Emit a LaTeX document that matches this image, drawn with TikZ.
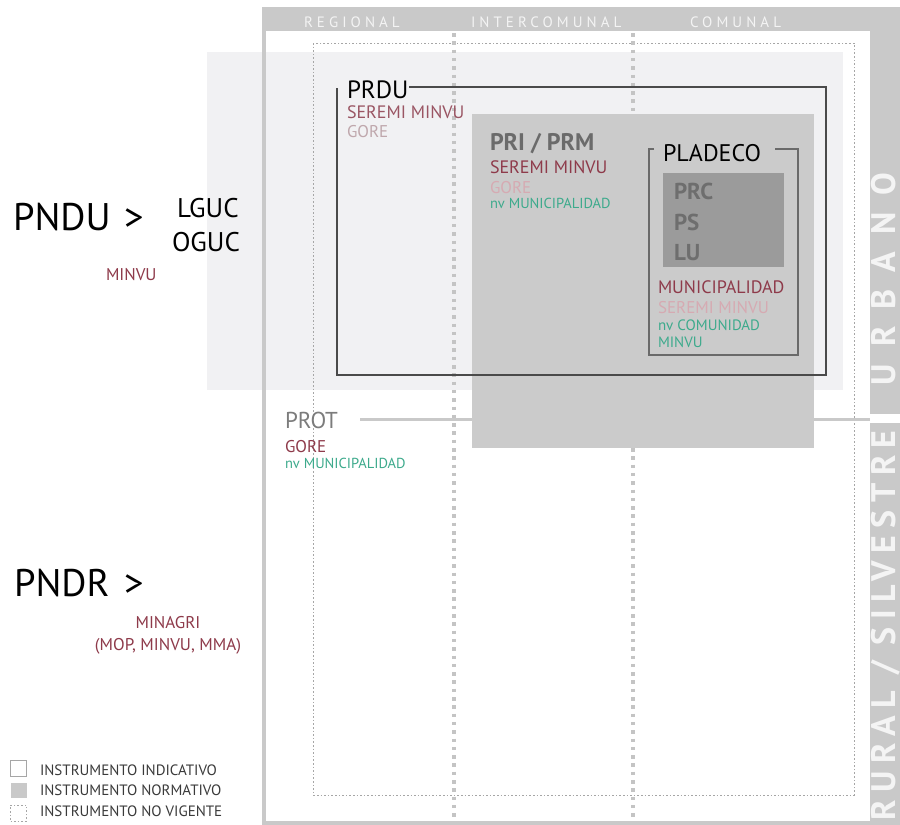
\documentclass[tikz,border=0pt]{standalone}
\usepackage{fontspec}
\setmainfont{PT Sans}
\newfontfamily\headfont[LetterSpace=27]{PT Sans}
\newfontfamily\bandfontA[LetterSpace=50]{PT Sans}
\newfontfamily\bandfontB[LetterSpace=22]{PT Sans}
\definecolor{framegray}{HTML}{C9C9C9}
\definecolor{lightzone}{HTML}{F1F1F3}
\definecolor{normgray}{HTML}{CBCBCB}
\definecolor{darkbox}{HTML}{9B9B9B}
\definecolor{darkred}{HTML}{8E3A4A}
\definecolor{midred}{HTML}{9A5563}
\definecolor{pinkgray}{HTML}{BFA7AC}
\definecolor{pinklight}{HTML}{D6AAB2}
\definecolor{tealc}{HTML}{3DAA8C}
\definecolor{dotgray}{HTML}{C4C4C4}
\definecolor{fingray}{HTML}{A6A6A6}
\definecolor{headtext}{HTML}{F4F4F4}
\definecolor{protgray}{HTML}{7C7C7C}
\definecolor{pritext}{HTML}{6B6B6B}
\definecolor{prctext}{HTML}{6E6E6E}
\definecolor{legtext}{HTML}{3A3A3A}
\definecolor{boxline}{HTML}{4A4A4A}
\definecolor{pladline}{HTML}{6A6A6A}
\newcommand{\fsz}[1]{\fontsize{#1}{#1}\selectfont}
\begin{document}
\begin{tikzpicture}[x=1pt,y=-1pt,
  txt/.style={anchor=base west, inner sep=0pt, outer sep=0pt},
  coldot/.style={dotgray, line width=3.5pt, dash pattern=on 3.5pt off 4.8pt},
  finedot/.style={fingray, line width=1pt, dash pattern=on 1.6pt off 2pt},
  boxstroke/.style={boxline, line width=1.1pt},
  pladstroke/.style={pladline, line width=1.6pt},
  protline/.style={framegray, line width=3pt}
]
\useasboundingbox (0,0) rectangle (900,825);
\fill[white] (0,0) rectangle (900,825);
% light zone (PRDU area)
\fill[lightzone] (207,52) rectangle (843,390);
% frame
\fill[framegray] (262,7) rectangle (900,31);
\fill[framegray] (870,7) rectangle (900,414);
\fill[framegray] (870,423) rectangle (900,825);
\fill[framegray] (262,7) rectangle (266,825);
\fill[framegray] (262,821) rectangle (900,825);
% non-current instrument (dotted)
\draw[finedot] (313,43) rectangle (854,795);
% column separators
\draw[coldot] (454,33) -- (454,821);
\draw[coldot] (633,33) -- (633,821);
% PROT connector
\coordinate (protstart) at (360,419);
\coordinate (protend) at (870,419);
\draw[protline] (protstart) -- (protend);
% PRI / PRM normative box
\fill[normgray] (472,114) rectangle (814,448);
% PRDU outline
\draw[boxstroke] (409,87) -- (826,87) -- (826,375) -- (337,375) -- (337,88);
% PLADECO outline
\draw[pladstroke] (654,149) -- (649,149) -- (649,355) -- (798,355) -- (798,149) -- (775,149);
\fill[darkbox] (663,173) rectangle (784,267);

% headers
\node[txt, text=headtext] (hreg) at (304,27) {\headfont\fsz{15}REGIONAL};
\node[txt, text=headtext] (hint) at (471,27) {\headfont\fsz{15}INTERCOMUNAL};
\node[txt, text=headtext] (hcom) at (690,27) {\headfont\fsz{15}COMUNAL};
% band labels
\node[txt, rotate=90, text=headtext] (urb) at (895,385) {\bandfontA\bfseries\fsz{34}URBANO};
\node[txt, rotate=90, text=headtext] (rur) at (895,820) {\bandfontB\bfseries\fsz{34}RURAL / SILVESTRE};

% PNDU block
\node[txt] (pndu) at (13,230) {\fsz{38.5}PNDU};
\node[txt] (gt1) at (124,230) {\fsz{38.5}>};
\node[txt] (lguc) at (177,217) {\fsz{27}LGUC};
\node[txt] (oguc) at (172,251) {\fsz{27}OGUC};
\node[txt, text=darkred] (minvu1) at (106,280) {\fsz{17}MINVU};
% PNDR block
\node[txt] (pndr) at (14,596) {\fsz{38.5}PNDR};
\node[txt] (gt2) at (124,596) {\fsz{38.5}>};
\node[anchor=base, inner sep=0pt, text=darkred] (minagri) at (168,628) {\fsz{17}MINAGRI};
\node[anchor=base, inner sep=0pt, text=darkred] (mop) at (168,650) {\fsz{17}(MOP, MINVU, MMA)};

% PRDU texts
\node[txt, text=black] (prdu) at (347,98) {\fsz{25}PRDU};
\node[txt, text=midred] (prdus) at (347,118) {\fsz{18}SEREMI MINVU};
\node[txt, text=pinkgray] (prdug) at (347,137) {\fsz{17}GORE};
% PRI texts
\node[txt, text=pritext] (pri) at (490,150) {\fsz{24}\bfseries PRI / PRM};
\node[txt, text=darkred] (pris) at (490,173) {\fsz{18}SEREMI MINVU};
\node[txt, text=pinklight] (prig) at (490,193) {\fsz{17}GORE};
\node[txt, text=tealc] (prim) at (490,208) {\fsz{14.5}nv MUNICIPALIDAD};
% PLADECO texts
\node[txt, text=black] (plad) at (663,161) {\fsz{24}PLADECO};
\node[txt, text=prctext] (prc) at (674,199) {\fsz{23}\bfseries PRC};
\node[txt, text=prctext] (ps) at (674,230) {\fsz{23}\bfseries PS};
\node[txt, text=prctext] (lu) at (674,260) {\fsz{23}\bfseries LU};
\node[txt, text=darkred] (pmun) at (658,293) {\fsz{18}MUNICIPALIDAD};
\node[txt, text=pinklight] (pser) at (658,313) {\fsz{17}SEREMI MINVU};
\node[txt, text=tealc] (pcom) at (658,330) {\fsz{15}nv COMUNIDAD};
\node[txt, text=tealc] (pmin) at (658,347) {\fsz{15}MINVU};
% PROT texts
\node[txt, text=protgray] (prot) at (285,428) {\fsz{23}PROT};
\node[txt, text=darkred] (protg) at (285,452) {\fsz{17}GORE};
\node[txt, text=tealc] (protm) at (285,468) {\fsz{14.5}nv MUNICIPALIDAD};

% legend
\node[draw=fingray, line width=0.8pt, minimum width=16pt, minimum height=16pt, inner sep=0pt] (lb1) at (18.5,768) {};
\node[fill=framegray, minimum width=16pt, minimum height=15pt, inner sep=0pt] (lb2) at (18.5,790) {};
\node[draw=fingray, finedot, minimum width=16pt, minimum height=16pt, inner sep=0pt] (lb3) at (18.5,813) {};
\node[txt, text=legtext] (l1) at (40,775) {\fsz{15}INSTRUMENTO INDICATIVO};
\node[txt, text=legtext] (l2) at (40,795) {\fsz{15}INSTRUMENTO NORMATIVO};
\node[txt, text=legtext] (l3) at (40,816) {\fsz{15}INSTRUMENTO NO VIGENTE};
\end{tikzpicture}
\end{document}
